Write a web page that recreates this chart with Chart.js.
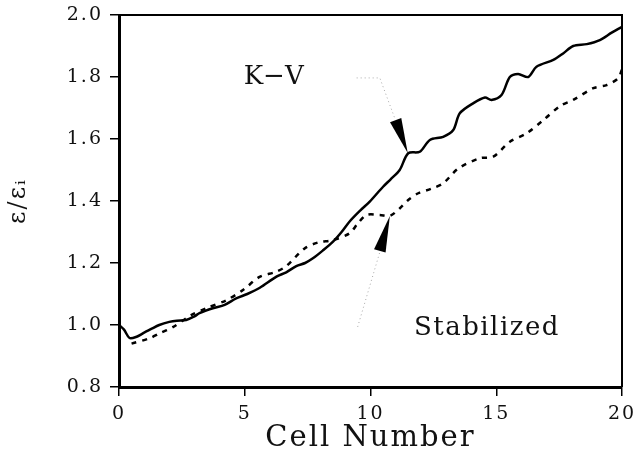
<!DOCTYPE html>
<html>
<head>
<meta charset="utf-8">
<script src="https://cdn.jsdelivr.net/npm/chart.js@4.4.1/dist/chart.umd.min.js"></script>
<style>
  html, body { margin: 0; padding: 0; background: #fff; }
  #wrap { width: 635px; height: 460px; }
</style>
</head>
<body>
<div id="wrap"><canvas id="chart"></canvas></div>
<script>
// K-V curve (solid)
const kvX = [0, 0.2, 0.42, 0.7, 0.95, 1.3, 1.6, 2.0, 2.3, 2.67, 3.0, 3.2, 3.73, 4.2, 4.66, 5.1, 5.6, 6.26, 6.65, 7.05, 7.4, 7.71, 8.1, 8.51, 8.85, 9.17, 9.6, 9.97, 10.5, 10.8, 11.16, 11.5, 11.96, 12.36, 12.89, 13.29, 13.55, 14.08, 14.55, 14.81, 15.21, 15.54, 15.87, 16.27, 16.6, 17.27, 17.66, 18.06, 18.6, 19.12, 19.59, 20];
const kvY = [1.0, 0.985, 0.958, 0.962, 0.973, 0.988, 1.0, 1.01, 1.014, 1.016, 1.028, 1.038, 1.054, 1.065, 1.086, 1.1, 1.12, 1.156, 1.17, 1.19, 1.2, 1.215, 1.24, 1.269, 1.3, 1.334, 1.37, 1.398, 1.446, 1.47, 1.5, 1.554, 1.559, 1.597, 1.607, 1.629, 1.683, 1.715, 1.734, 1.726, 1.742, 1.8, 1.81, 1.8, 1.833, 1.855, 1.876, 1.9, 1.906, 1.919, 1.943, 1.962];

// Stabilized curve (dashed)
const stabX = [0.5, 1.21, 1.61, 2.14, 2.87, 3.47, 4.27, 4.93, 5.59, 6.26, 6.65, 7.38, 7.91, 8.51, 9.17, 9.5, 9.84, 10.37, 10.77, 11.16, 11.5, 11.9, 12.43, 12.89, 13.49, 14.35, 14.88, 15.54, 16.2, 16.87, 17.53, 18.06, 18.86, 19.39, 19.85, 20];
const stabY = [0.94, 0.957, 0.973, 0.993, 1.032, 1.054, 1.08, 1.113, 1.155, 1.172, 1.19, 1.247, 1.266, 1.274, 1.296, 1.328, 1.355, 1.355, 1.352, 1.376, 1.403, 1.425, 1.44, 1.457, 1.505, 1.538, 1.543, 1.591, 1.618, 1.661, 1.706, 1.726, 1.764, 1.774, 1.796, 1.825];

const xTicks = [0, 5, 10, 15, 20];
const yTicks = [0.8, 1.0, 1.2, 1.4, 1.6, 1.8, 2.0];

// labels and arrows, in data units
const kvLabel = { text: 'K\u2212V', x: 6.15, y: 1.80 };
const kvLeader = [[9.45, 1.797], [10.37, 1.797], [10.96, 1.668]];
const kvArrow = { from: [11.0, 1.661], to: [11.48, 1.555] };
const stabLabel = { text: 'Stabilized', x: 14.63, y: 0.99 };
const stabLeader = [[9.49, 0.994], [10.37, 1.235]];
const stabArrow = { from: [10.37, 1.239], to: [10.77, 1.352] };

const toPoints = (xs, ys) => xs.map((x, i) => ({ x: x, y: ys[i] }));

const serif = 'DejaVu Serif';

// white page + wider letter spacing like the scanned figure
const pagePlugin = {
  id: 'page',
  beforeDraw(chart) {
    const ctx = chart.ctx;
    ctx.save();
    ctx.fillStyle = '#fff';
    ctx.fillRect(0, 0, chart.width, chart.height);
    ctx.restore();
    ctx.letterSpacing = '2px';
  }
};

// top and right frame lines
const framePlugin = {
  id: 'frame',
  afterDatasetsDraw(chart) {
    const { ctx, chartArea: a } = chart;
    ctx.save();
    ctx.strokeStyle = '#000';
    ctx.lineWidth = 2;
    ctx.beginPath();
    ctx.moveTo(a.left, a.top);
    ctx.lineTo(a.right, a.top);
    ctx.lineTo(a.right, a.bottom);
    ctx.stroke();
    ctx.restore();
  }
};

const notesPlugin = {
  id: 'notes',
  afterDraw(chart) {
    const ctx = chart.ctx;
    const sx = chart.scales.x, sy = chart.scales.y;
    const px = p => [sx.getPixelForValue(p[0]), sy.getPixelForValue(p[1])];

    ctx.save();
    ctx.fillStyle = '#111';
    ctx.font = '26px "' + serif + '"';
    ctx.textAlign = 'center';
    ctx.textBaseline = 'middle';
    ctx.letterSpacing = '0px';
    ctx.fillText(kvLabel.text, sx.getPixelForValue(kvLabel.x), sy.getPixelForValue(kvLabel.y));
    ctx.letterSpacing = '1.5px';
    ctx.fillText(stabLabel.text, sx.getPixelForValue(stabLabel.x), sy.getPixelForValue(stabLabel.y));

    // faint dotted leaders
    ctx.strokeStyle = '#aaa';
    ctx.lineWidth = 1;
    ctx.setLineDash([1, 3]);
    [kvLeader, stabLeader].forEach(line => {
      ctx.beginPath();
      line.forEach((p, i) => {
        const q = px(p);
        if (i === 0) ctx.moveTo(q[0], q[1]); else ctx.lineTo(q[0], q[1]);
      });
      ctx.stroke();
    });
    ctx.setLineDash([]);

    // filled arrow heads
    ctx.fillStyle = '#000';
    [kvArrow, stabArrow].forEach(ar => {
      const b = px(ar.from), t = px(ar.to);
      const dx = t[0] - b[0], dy = t[1] - b[1];
      const len = Math.hypot(dx, dy);
      const nx = -dy / len * 6, ny = dx / len * 6;
      ctx.beginPath();
      ctx.moveTo(t[0], t[1]);
      ctx.lineTo(b[0] + nx, b[1] + ny);
      ctx.lineTo(b[0] - nx, b[1] - ny);
      ctx.closePath();
      ctx.fill();
    });
    ctx.restore();
  }
};

new Chart(document.getElementById('chart'), {
  type: 'scatter',
  data: {
    datasets: [{
      label: 'K-V',
      data: toPoints(kvX, kvY),
      showLine: true,
      borderColor: '#000',
      borderWidth: 2.5,
      pointRadius: 0,
      tension: 0.3
    }, {
      label: 'Stabilized',
      data: toPoints(stabX, stabY),
      showLine: true,
      borderColor: '#000',
      borderWidth: 2.5,
      borderDash: [5, 6],
      pointRadius: 0,
      tension: 0.3
    }]
  },
  options: {
    responsive: true,
    maintainAspectRatio: false,
    animation: false,
    layout: { padding: { left: 0, right: 13, top: 15, bottom: 0 } },
    plugins: {
      legend: { display: false },
      tooltip: { enabled: false }
    },
    scales: {
      x: {
        type: 'linear',
        min: 0,
        max: 20,
        afterBuildTicks: s => { s.ticks = xTicks.map(v => ({ value: v })); },
        afterFit: s => { s.height = 73; s.paddingLeft = 0; s.paddingRight = 0; },
        grid: { drawOnChartArea: false, drawTicks: true, tickLength: 9, color: '#000', lineWidth: 1.5 },
        border: { display: true, color: '#000', width: 3 },
        ticks: { color: '#111', font: { family: serif, size: 19 }, padding: 7, maxRotation: 0 },
        title: { display: true, text: 'Cell Number', color: '#111', font: { family: serif, size: 29 }, padding: { top: 6 } }
      },
      y: {
        type: 'linear',
        min: 0.8,
        max: 2.0,
        afterBuildTicks: s => { s.ticks = yTicks.map(v => ({ value: v })); },
        afterFit: s => { s.width = 119; s.paddingTop = 0; s.paddingBottom = 0; },
        grid: { drawOnChartArea: false, drawTicks: true, tickLength: 9, color: '#000', lineWidth: 1.5 },
        border: { display: true, color: '#000', width: 3 },
        ticks: { color: '#111', font: { family: serif, size: 19 }, padding: 7, callback: v => v.toFixed(1) },
        title: { display: true, text: '\u03b5/\u03b5\u1d62', color: '#111', font: { family: serif, size: 24 }, padding: { top: 4, bottom: 4 } }
      }
    }
  },
  plugins: [pagePlugin, framePlugin, notesPlugin]
});
</script>
</body>
</html>
